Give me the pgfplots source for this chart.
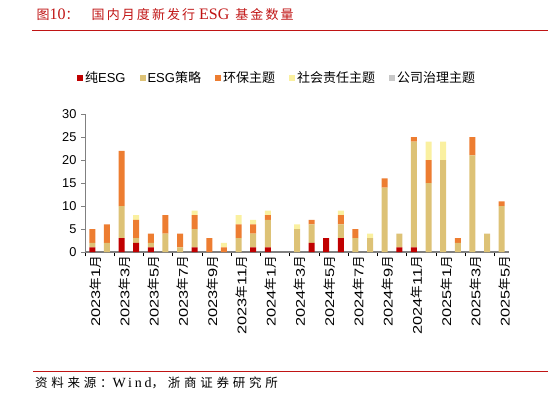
\documentclass[border=0pt]{standalone}
\usepackage{fontspec}
\usepackage{graphicx}
\usepackage{pgfplots}
\usepackage{pgfplotstable}
\pgfplotsset{compat=1.18}
\setmainfont{Liberation Sans}
\newfontfamily\cjk{Noto Sans CJK SC}
\newfontfamily\cjkls{Noto Sans CJK SC}[LetterSpace=16]
\newfontfamily\cjkfoot{Noto Sans CJK SC}[LetterSpace=30]
\newfontfamily\serif{Liberation Serif}
\newfontfamily\seriffoot{Liberation Serif}[LetterSpace=20]

\definecolor{cRed}{RGB}{192,0,0}
\definecolor{cTan}{RGB}{221,194,118}
\definecolor{cOrange}{RGB}{237,125,49}
\definecolor{cYellow}{RGB}{250,240,160}
\definecolor{cGray}{RGB}{200,200,200}
\definecolor{axisGray}{RGB}{128,128,128}
\definecolor{titleRed}{RGB}{192,20,20}

% month label: digits a little wider, as in the reference
\newcommand\lab[2]{\scalebox{1.3}[1]{#1}{\cjk 年}\scalebox{1.3}[1]{#2}{\cjk 月}}

% 2023-01 ... 2025-05
\pgfplotstableread{
x  pure strat env soc gov
0  1  1  3  0  0
1  0  2  4  0  0
2  3  7  12 0  0
3  2  1  4  1  0
4  1  1  2  0  0
5  0  4  4  0  0
6  0  1  3  0  0
7  1  4  3  1  0
8  0  0  3  0  0
9  0  0  1  1  0
10 0  3  3  2  0
11 1  3  2  1  0
12 1  6  1  1  0
13 0  0  0  0  0
14 0  5  0  1  0
15 2  4  1  0  0
16 3  0  0  0  0
17 3  3  2  1  0
18 0  3  2  0  0
19 0  3  0  1  0
20 0  14 2  0  0
21 1  3  0  0  0
22 1  23 1  0  0
23 0  15 5  4  0
24 0  20 0  4  0
25 0  2  1  0  0
26 0  21 4  0  0
27 0  4  0  0  0
28 0  10 1  0  0
}\esgdata

\begin{document}
\begin{tikzpicture}
\path[use as bounding box] (0,0) rectangle (548pt,-401pt);

% title and rule
\node[anchor=west, inner sep=0pt, text=titleRed, font=\fontsize{13}{15}\selectfont]
  at (36.5pt,-15pt) {{\cjkls 图}{\serif\fontsize{16}{16}\selectfont 10}{\cjkls ：}\hspace{13pt}{\cjkls 国内月度新发行}\hspace{4pt}{\serif\fontsize{16}{16}\selectfont ESG}\hspace{6pt}{\cjkls 基金数量}};
\draw[titleRed, line width=1pt] (32pt,-30.5pt) -- (548pt,-30.5pt);

% source
\draw[titleRed, line width=1pt] (33pt,-371pt) -- (548pt,-371pt);
\node[anchor=west, inner sep=0pt, font=\fontsize{12.5}{15}\selectfont]
  at (35pt,-383pt) {{\cjkfoot 资料来源：}{\seriffoot\fontsize{14}{15}\selectfont Wind}{\cjkfoot ，浙商证券研究所}};

\begin{axis}[
  at={(85pt,-252pt)}, anchor=south west,
  scale only axis, width=424pt, height=138pt,
  ybar stacked, bar width=6pt,
  xmin=-0.5, xmax=28.5, ymin=0, ymax=30,
  ytick={0,5,...,30},
  xtick={0,2,...,28},
  xticklabels={\lab{2023}{1},\lab{2023}{3},\lab{2023}{5},\lab{2023}{7},\lab{2023}{9},\lab{2023}{11},
               \lab{2024}{1},\lab{2024}{3},\lab{2024}{5},\lab{2024}{7},\lab{2024}{9},\lab{2024}{11},
               \lab{2025}{1},\lab{2025}{3},\lab{2025}{5}},
  minor xtick={-0.5,1.5,...,27.5},
  major x tick style={draw=none},
  minor x tick style={black, line width=0.8pt},
  minor tick length=4pt,
  major tick length=4pt,
  y tick style={axisGray, line width=0.8pt},
  tick align=outside,
  axis x line*=bottom, axis y line*=left,
  x axis line style={axisGray, line width=1.6pt, -},
  y axis line style={axisGray, line width=0.8pt, -},
  xticklabel style={rotate=90, anchor=east, inner sep=0pt, yshift=-3pt, font=\fontsize{12.6}{14}\selectfont},
  yticklabel style={font=\fontsize{12.8}{14}\selectfont, xshift=-1pt},
  /pgf/number format/assume math mode=true,
  legend columns=5,
  legend style={at={(axis description cs:0.453,1.261)}, anchor=center,
    draw=none, fill=none, inner sep=0pt,
    font=\fontsize{13}{15}\selectfont,
    /tikz/every even column/.append style={column sep=12pt}},
  legend cell align=left,
  legend image code/.code={\fill[#1] (0pt,-3pt) rectangle (6pt,3pt);},
]
\addplot[fill=cRed, draw=none] table[x=x, y=pure] {\esgdata};
\addlegendentry{{\cjk 纯}ESG}
\addplot[fill=cTan, draw=none] table[x=x, y=strat] {\esgdata};
\addlegendentry{ESG{\cjk 策略}}
\addplot[fill=cOrange, draw=none] table[x=x, y=env] {\esgdata};
\addlegendentry{{\cjk 环保主题}}
\addplot[fill=cYellow, draw=none] table[x=x, y=soc] {\esgdata};
\addlegendentry{{\cjk 社会责任主题}}
\addplot[fill=cGray, draw=none] table[x=x, y=gov] {\esgdata};
\addlegendentry{{\cjk 公司治理主题}}
\end{axis}
\end{tikzpicture}
\end{document}
